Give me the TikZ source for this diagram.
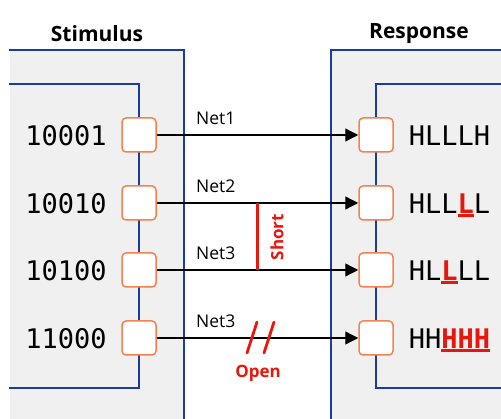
\documentclass[tikz,border=0pt]{standalone}
\usepackage{fontspec}
\setmainfont{Open Sans}
\newfontfamily\codefont{DejaVu Sans Mono}
\usetikzlibrary{arrows.meta}

\definecolor{panelgray}{HTML}{F0F0F0}
\definecolor{panelblue}{HTML}{1A3BA0}
\definecolor{pinorange}{HTML}{F5814E}
\definecolor{faultred}{HTML}{E8160C}

% a response bit that differs from the expected value
\newcommand\faultbit[1]{\textcolor{faultred}{\bfseries\rlap{\rule[-3.2pt]{0.602em}{2.4pt}}#1}}

\tikzset{
  pin/.style={draw=pinorange, line width=1.5pt, fill=white, rounded corners=4pt,
              minimum size=34pt, inner sep=0pt},
  vec/.style={inner sep=0pt, anchor=base, font=\codefont\fontsize{27}{30}\selectfont},
  title/.style={inner sep=0pt, font=\fontsize{21}{25}\selectfont\bfseries},
  netlabel/.style={inner sep=0pt, anchor=base west, font=\fontsize{17.5}{20}\selectfont},
  border/.style={draw=panelblue, line width=1.5pt},
  wire/.style={draw=black, line width=1.3pt, -{Triangle[length=13pt,width=13pt]}},
  fault/.style={draw=faultred, line width=3pt},
  faultlabel/.style={inner sep=0pt, text=faultred, font=\fontsize{17}{20}\selectfont\bfseries},
}

\begin{document}
\begin{tikzpicture}[x=1pt, y=-1pt]
\useasboundingbox (0,0) rectangle (501,419);

% panels
\fill[panelgray] (10,50) rectangle (184,419);
\fill[panelgray] (331,50) rectangle (501,419);
\draw[border] (9,50) -- (184,50) -- (184,419);
\draw[border] (9,84) -- (139,84) -- (139,388) -- (9,388);
\draw[border] (501,50) -- (331,50) -- (331,419);
\draw[border] (501,84) -- (376,84) -- (376,388) -- (501,388);

% titles
\node[title] (tin) at (97,34) {Stimulus};
\node[title] (tout) at (419,34) {Response};

% pins
\foreach \i/\y in {1/135, 2/203, 3/270, 4/338} {
  \node[pin] (L\i) at (139,\y) {};
  \node[pin] (R\i) at (376,\y) {};
}

% stimulus vectors
\node[vec] (s1) at (66,145.5) {10001};
\node[vec] (s2) at (66,213.5) {10010};
\node[vec] (s3) at (66,280.5) {10100};
\node[vec] (s4) at (66,348.5) {11000};

% response vectors
\node[vec] (r1) at (449.5,145.5) {HLLLH};
\node[vec] (r2) at (449.5,213.5) {HLL\faultbit{L}L};
\node[vec] (r3) at (449.5,280.5) {HL\faultbit{L}LL};
\node[vec] (r4) at (449.5,348.5) {HH\faultbit{H}\faultbit{H}\faultbit{H}};

% nets
\foreach \i in {1,...,4} { \draw[wire] (L\i.east) -- (R\i.west); }
\node[netlabel] (n1) at (196,125) {Net1};
\node[netlabel] (n2) at (196,193) {Net2};
\node[netlabel] (n3) at (196,260) {Net3};
\node[netlabel] (n4) at (196,328) {Net3};

% short between net 2 and net 3
\coordinate (sa) at (257,203);
\coordinate (sb) at (257,270);
\draw[fault] (sa) -- (sb);
\node[faultlabel, rotate=90] (short) at (277,237) {Short};

% open on the last net
\coordinate (o1a) at (257,322);
\coordinate (o1b) at (247,353);
\coordinate (o2a) at (274,322);
\coordinate (o2b) at (264,353);
\draw[fault, line width=2.8pt, line cap=round] (o1a) -- (o1b);
\draw[fault, line width=2.8pt, line cap=round] (o2a) -- (o2b);
\node[faultlabel] (open) at (258,373) {Open};
\end{tikzpicture}
\end{document}
